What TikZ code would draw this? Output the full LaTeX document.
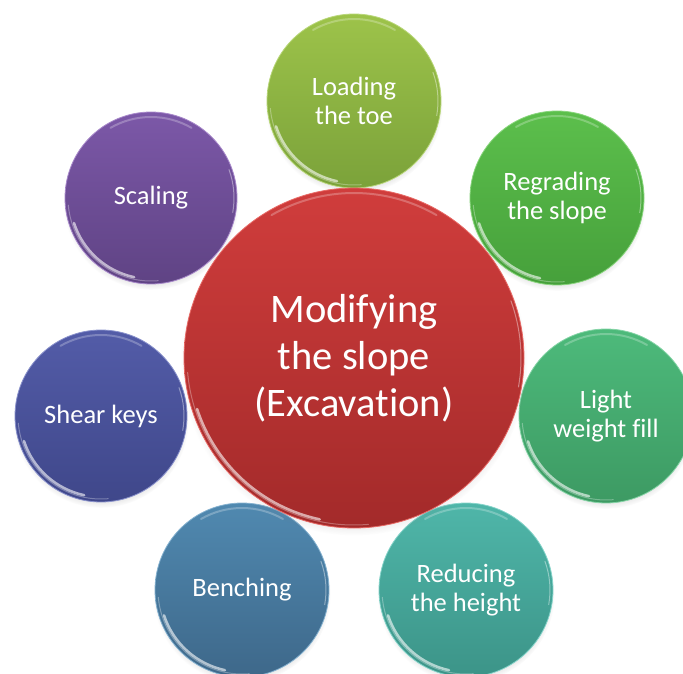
\documentclass[tikz,border=0pt]{standalone}
\usepackage{fontspec}
\setmainfont{Carlito}[Ligatures={NoCommon}]
\usetikzlibrary{shadows,calc}
\definecolor{ctop}{HTML}{D03D3C}\definecolor{cbot}{HTML}{A32A2A}\definecolor{crim}{HTML}{E86A66}
\definecolor{ltop}{HTML}{9DC34A}\definecolor{lbot}{HTML}{7BA23A}\definecolor{lrim}{HTML}{B9D77A}
\definecolor{rtop}{HTML}{5CBF4C}\definecolor{rbot}{HTML}{46A03B}\definecolor{rrim}{HTML}{8AD67E}
\definecolor{wtop}{HTML}{4DBA7B}\definecolor{wbot}{HTML}{3D9A63}\definecolor{wrim}{HTML}{85D4A6}
\definecolor{htop}{HTML}{4FB6A9}\definecolor{hbot}{HTML}{3C9488}\definecolor{hrim}{HTML}{86D4CA}
\definecolor{btop}{HTML}{5089B0}\definecolor{bbot}{HTML}{3E688A}\definecolor{brim}{HTML}{86B2D0}
\definecolor{stop}{HTML}{535CA8}\definecolor{sbot}{HTML}{3F478A}\definecolor{srim}{HTML}{8A92CC}
\definecolor{ptop}{HTML}{7C58A8}\definecolor{pbot}{HTML}{5F4384}\definecolor{prim}{HTML}{A98ACB}
% name, x, y, r, top, bottom, rim, font size, text
\newcommand\mybubble[9]{%
  \node[bub, minimum size={2*#4pt}, top color=#5, bottom color=#6, draw=#7, line width=0.8pt, font=#8] (#1) at (#2,#3) {#9};
  \draw[white, opacity=.6, line width=2.6pt, line cap=round]
    ($(#1.center)+(198:{(#4-5)*1pt})$) arc[start angle=198, end angle=258, radius={(#4-5)*1pt}];
  \draw[white, opacity=.3, line width=1pt, line cap=round]
    ($(#1.center)+(185:{(#4-3)*1pt})$) arc[start angle=185, end angle=275, radius={(#4-3)*1pt}];
  \draw[white, opacity=.25, line width=2pt, line cap=round]
    ($(#1.center)+(60:{(#4-5)*1pt})$) arc[start angle=60, end angle=120, radius={(#4-5)*1pt}];
  \draw[white, opacity=.4, line width=1pt, line cap=round]
    ($(#1.center)+(-10:{(#4-3)*1pt})$) arc[start angle=-10, end angle=20, radius={(#4-3)*1pt}];
}
\begin{document}
\begin{tikzpicture}[x=1pt,y=1pt,
  bub/.style={circle, inner sep=0pt, align=center, text=white,
    circular drop shadow={shadow xshift=0pt, shadow yshift=-4pt, shadow scale=1.02, opacity=0.35}}]
\useasboundingbox (0,0) rectangle (683,673);
\mybubble{load}{354}{572}{87}{ltop}{lbot}{lrim}{\fontsize{26.5}{29}\selectfont}{Loading\\the toe}
\mybubble{regr}{557}{475}{87}{rtop}{rbot}{rrim}{\fontsize{26.5}{29}\selectfont}{Regrading\\the slope}
\mybubble{light}{606}{257}{87}{wtop}{wbot}{wrim}{\fontsize{26.5}{29}\selectfont}{Light\\weight fill}
\mybubble{redu}{466}{83}{87}{htop}{hbot}{hrim}{\fontsize{26.5}{29}\selectfont}{Reducing\\the height}
\mybubble{bench}{242}{83}{87}{btop}{bbot}{brim}{\fontsize{26.5}{29}\selectfont}{Benching}
\mybubble{shear}{101}{257}{86}{stop}{sbot}{srim}{\fontsize{26.5}{29}\selectfont}{Shear keys}
\mybubble{scal}{151}{475}{86}{ptop}{pbot}{prim}{\fontsize{26.5}{29}\selectfont}{Scaling}
\mybubble{main}{354}{315}{170}{ctop}{cbot}{crim}{\fontsize{40.5}{47}\selectfont}{Modifying\\the slope\\(Excavat\kern0pt ion)}
\end{tikzpicture}
\end{document}
